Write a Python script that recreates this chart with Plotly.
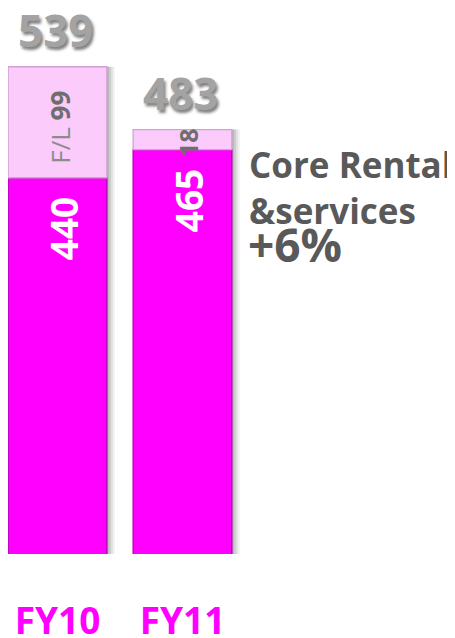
import plotly.graph_objects as go

categories = ["FY10", "FY11"]
core_values = [440, 465]
fl_values = [99, 18]
totals = [539, 483]
fl_names = ["F/L", ""]
headline = ["Core Rental", "&services"]
growth = "+6%"

x = list(range(len(categories)))

MAGENTA = "#FF00FF"
PINK = "#FBCBFB"
GRAY_DARK = "#595959"
W, H = 455, 638
BW = 0.79
PX = 1 / 125  # one pixel in x units

fig = go.Figure()
# soft drop shadow to the right of the bars
for k, a in [(8, 0.05), (6, 0.07), (4, 0.09), (2, 0.10)]:
    fig.add_trace(go.Bar(
        x=x, y=totals, width=BW, offset=-BW / 2 + k * PX,
        marker=dict(color=f"rgba(0,0,0,{a})", line=dict(width=0)),
        hoverinfo="skip",
    ))
fig.add_trace(go.Bar(
    x=x, y=core_values, width=BW,
    marker=dict(color=MAGENTA, line=dict(color="#B000B0", width=1.3)),
    hoverinfo="skip",
))
fig.add_trace(go.Bar(
    x=x, y=fl_values, base=core_values, width=BW,
    marker=dict(color=PINK, line=dict(color="#D4A0D4", width=1.3)),
    hoverinfo="skip",
))

for i in x:
    # core value labels (rotated, white)
    fig.add_annotation(
        x=i, y=core_values[i], text=f"<b>{core_values[i]}</b>", showarrow=False,
        textangle=-90, xanchor="center", yanchor="middle", yshift=-51, xshift=6,
        font=dict(family="Open Sans", size=37, color="white"),
    )
    # F/L labels
    lbl = f"<b>{fl_values[i]}</b>"
    if fl_names[i]:
        lbl = f"<span style='color:#8c8c8c'>{fl_names[i]}</span> " + lbl
    fig.add_annotation(
        x=i, y=core_values[i] + fl_values[i] / 2, text=lbl,
        showarrow=False, textangle=-90, xanchor="center", yanchor="middle",
        yshift=-5 if i == 0 else -3, xshift=3 if i == 0 else 5,
        font=dict(family="Open Sans", size=26 if i == 0 else 25, color="#6e6e6e"),
    )
    # totals
    fig.add_annotation(
        x=i, y=totals[i], text=f"<b>{totals[i]}</b>", showarrow=False,
        xanchor="center", yanchor="middle", yshift=37, xshift=-2,
        font=dict(family="Open Sans", size=44, color="#A3A3A3",
                  shadow="2px 3px 3px #808080"),
    )

fig.add_annotation(
    xref="paper", yref="paper", x=239 / W, y=1 - 153 / H,
    xanchor="left", yanchor="top", align="left", showarrow=False,
    text="<b>" + "<br>".join(headline) + "</b>",
    font=dict(family="Open Sans", size=35, color=GRAY_DARK),
)
fig.add_annotation(
    xref="paper", yref="paper", x=238 / W, y=1 - 237 / H,
    xanchor="left", yanchor="top", align="left", showarrow=False,
    text=f"<b>{growth}</b>",
    font=dict(family="Open Sans", size=46, color=GRAY_DARK),
)

fig.update_layout(
    width=W, height=H,
    margin=dict(l=0, r=0, t=0, b=92),
    barmode="overlay",
    showlegend=False,
    plot_bgcolor="white", paper_bgcolor="white",
    hovermode=False,
    xaxis=dict(
        range=[-0.396, 3.244], tickvals=x, ticktext=categories,
        showgrid=False, zeroline=False, showline=False, ticks="",
        tickfont=dict(family="Open Sans", size=37, color=MAGENTA, weight="bold"),
        ticklabelstandoff=42,
    ),
    yaxis=dict(range=[104.4, 591.4], visible=False, showgrid=False),
)

fig.write_html("out.html")
